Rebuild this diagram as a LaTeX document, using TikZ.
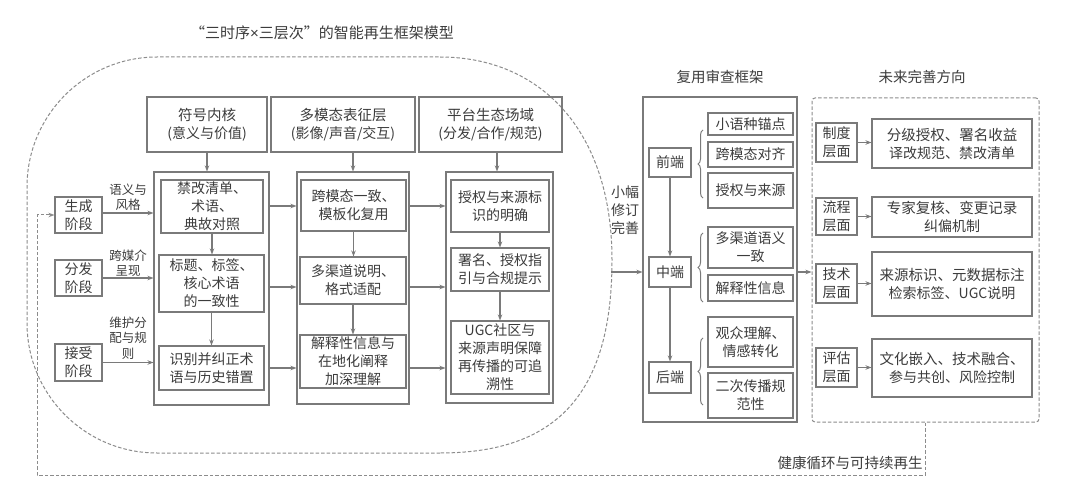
\documentclass[tikz,border=0pt]{standalone}
\usepackage{fontspec}
\setmainfont{Noto Sans CJK SC}
\newfontfamily\latinfont{Liberation Sans}
\usetikzlibrary{arrows.meta,decorations.pathreplacing}
\definecolor{lc}{HTML}{7A7A7A}
\definecolor{tc}{HTML}{3C3C3C}
\definecolor{dc}{HTML}{8C8C8C}
\newcommand{\fsz}[2]{\fontsize{#1}{#2}\selectfont}
\newcommand{\bxn}[6]{\node[bx,minimum width=#4pt,minimum height=#5pt] (#1) at (#2,#3) {#6};}
\tikzset{
 bx/.style={draw=lc, line width=1.1pt, text=tc, align=center, inner sep=0pt, font=\fsz{14}{18}},
 arr/.style={draw=lc, line width=1.1pt, -{Stealth[length=6pt,width=4.5pt]}},
 dsh/.style={draw=dc, line width=1pt, dash pattern=on 3.5pt off 2pt},
 brc/.style={draw=lc, line width=1pt, decorate, decoration={brace, amplitude=5pt}},
 lbl/.style={text=tc, align=center, inner sep=0pt}
}
\begin{document}
\begin{tikzpicture}[x=1pt,y=-1pt]
\useasboundingbox[fill=white] (0,0) rectangle (1080,492);

% titles
\node[lbl, font=\fsz{15}{18}] (title) at (322,33) {“三时序{\latinfont ×}三层次”的智能再生框架模型};
\node[lbl, font=\fsz{14.5}{18}] (revt) at (720,77) {复用审查框架};
\node[lbl, font=\fsz{14.5}{18}] (futt) at (922,77) {未来完善方向};

% big dashed model shape
\draw[dsh, rounded corners=130pt] (440,453) -- (27,453) -- (27,57) -- (440,57);
\draw[dsh] (440,57) .. controls (540,57) and (612,130) .. (612,260) .. controls (612,390) and (560,453) .. (440,453);

% row helper coordinates
\coordinate (r1) at (0,206);
\coordinate (r2) at (0,287);
\coordinate (r3) at (0,368);

% stage boxes
\bxn{g}{78.5}{215}{47}{36}{生成\\阶段}
\bxn{f}{78.5}{278}{47}{36}{分发\\阶段}
\bxn{r}{78.5}{362.5}{47}{37}{接受\\阶段}
\node[lbl, font=\fsz{12.5}{15.5}] (lg) at (128,197) {语义与\\风格};
\node[lbl, font=\fsz{12.5}{15.5}] (lf) at (128,263) {跨媒介\\呈现};
\node[lbl, font=\fsz{12.5}{15.5}] (lr) at (128,338) {维护分\\配与规\\则};

% column 1
\bxn{h1}{207}{124.5}{120}{55}{\fontsize{14.5}{18}\selectfont 符号内核\\(意义与价值)}
\bxn{o1}{211.5}{288.5}{115}{233}{}
\bxn{a1}{212}{206.5}{102}{53}{禁改清单、\\术语、\\典故对照}
\bxn{b1}{211.5}{283.5}{105}{57}{标题、标签、\\核心术语\\的一致性}
\bxn{c1}{211.5}{368}{105}{44}{识别并纠正术\\语与历史错置}

% column 2
\bxn{h2}{343}{124.5}{144}{55}{\fontsize{14.5}{18}\selectfont 多模态表征层\\(影像/声音/交互)}
\bxn{o2}{353}{288}{112}{232}{}
\bxn{a2}{353.5}{205.5}{105}{51}{跨模态一致、\\模板化复用}
\bxn{b2}{353}{280.5}{106}{47}{多渠道说明、\\格式适配}
\bxn{c2}{353}{361.5}{106}{53}{解释性信息与\\在地化阐释\\加深理解}

% column 3
\bxn{h3}{490.5}{124.5}{143}{55}{\fontsize{14.5}{18}\selectfont 平台生态场域\\(分发/合作/规范)}
\bxn{o3}{499.5}{287.5}{107}{231}{}
\bxn{a3}{500}{206}{98}{52}{授权与来源标\\识的明确}
\bxn{b3}{500}{269.5}{98}{43}{署名、授权指\\引与合规提示}
\bxn{c3}{500}{357.5}{98}{73}{UGC社区与\\来源声明保障\\再传播的可追\\溯性}

% arrows stages -> col1
\draw[arr] (g.east |- 0,213) -- (o1.west |- 0,213);
\draw[arr] (f.east) -- (o1.west |- f.east);
\draw[arr] (r.east) -- (o1.west |- r.east);

% header arrows
\draw[arr] (h1.south) -- (h1.south |- o1.north);
\draw[arr] (o2.north |- h2.south) -- (o2.north);
\draw[arr] (o3.north -| 497,0) ++(0,-20) -- (o3.north -| 497,0);

% vertical arrows inside columns
\draw[arr] (a1.south) -- (a1.south |- b1.north);
\draw[arr] (b1.south) -- (b1.south |- c1.north);
\draw[arr] (a2.south) -- (a2.south |- b2.north);
\draw[arr] (b2.south) -- (b2.south |- c2.north);
\draw[arr] (a3.south) -- (a3.south |- b3.north);
\draw[arr] (b3.south) -- (b3.south |- c3.north);

% column-to-column arrows
\draw[arr] (o1.east |- r1) -- (o2.west |- r1);
\draw[arr] (o1.east |- r2) -- (o2.west |- r2);
\draw[arr] (o1.east |- r3) -- (o2.west |- r3);
\draw[arr] (o2.east |- r1) -- (o3.west |- r1);
\draw[arr] (o2.east |- r2) -- (o3.west |- r2);
\draw[arr] (o2.east |- r3) -- (o3.west |- r3);

% review framework
\bxn{rv}{720}{259.5}{154}{325}{}
\bxn{fe}{670}{162.5}{42}{29}{前端}
\bxn{me}{670}{272}{42}{30}{中端}
\bxn{be}{670}{377.5}{42}{31}{后端}
\bxn{s1}{750.5}{124}{85}{22}{小语种锚点}
\bxn{s2}{750.5}{154.5}{85}{25}{跨模态对齐}
\bxn{s3}{750.5}{190.5}{85}{35}{授权与来源}
\bxn{s4}{750.5}{247.5}{85}{41}{多渠道语义\\一致}
\bxn{s5}{750.5}{288}{85}{26}{解释性信息}
\bxn{s6}{750.5}{342}{85}{50}{观众理解、\\情感转化}
\bxn{s7}{750.5}{395.5}{85}{45}{二次传播规\\范性}
\draw[brc] (703,198) -- (703,130);
\draw[brc] (703,302) -- (703,233);
\draw[brc] (703,405) -- (703,338);
\draw[arr] (fe.south) -- (me.north);
\draw[arr] (me.south) -- (be.north);
\node[lbl, font=\fsz{14}{18}] (xf) at (625,210) {小幅\\修订\\完善};
\coordinate (mdl) at (611,272);
\draw[arr] (mdl) -- (rv.west |- mdl);

% future directions
\node[dsh, rounded corners=3pt, minimum width=227pt, minimum height=324pt, inner sep=0pt] (fut) at (925.5,260) {};
\draw[arr] (rv.east |- me) -- (fut.west |- me);
\bxn{l1}{836.5}{142.5}{41}{39}{制度\\层面}
\bxn{l2}{836.5}{216.5}{41}{37}{流程\\层面}
\bxn{l3}{836.5}{283.5}{41}{39}{技术\\层面}
\bxn{l4}{836.5}{367.5}{41}{39}{评估\\层面}
\bxn{k1}{952}{143.5}{160}{49}{\fontsize{14.5}{18}\selectfont 分级授权、署名收益\\译改规范、禁改清单}
\bxn{k2}{952}{217}{160}{40}{\fontsize{14.5}{18}\selectfont 专家复核、变更记录\\纠偏机制}
\bxn{k3}{952}{284}{160}{64}{\fontsize{14.5}{18}\selectfont 来源标识、元数据标注\\检索标签、UGC说明}
\bxn{k4}{952}{368}{160}{58}{\fontsize{14.5}{18}\selectfont 文化嵌入、技术融合、\\参与共创、风险控制}
\draw[arr] (l1.east) -- (k1.west |- l1.east);
\draw[arr] (l2.east) -- (k2.west |- l2.east);
\draw[arr] (l3.east) -- (k3.west |- l3.east);
\draw[arr] (l4.east) -- (k4.west |- l4.east);

% feedback loop
\coordinate (fb1) at (925,475);
\coordinate (fb2) at (37,475);
\draw[dsh, -{Stealth[length=6pt,width=4.5pt]}] (fut.south -| fb1) -- (fb1) -- (fb2) |- (g.west);
\node[lbl, font=\fsz{14.5}{18}] (hl) at (850,463) {健康循环与可持续再生};
\end{tikzpicture}
\end{document}
